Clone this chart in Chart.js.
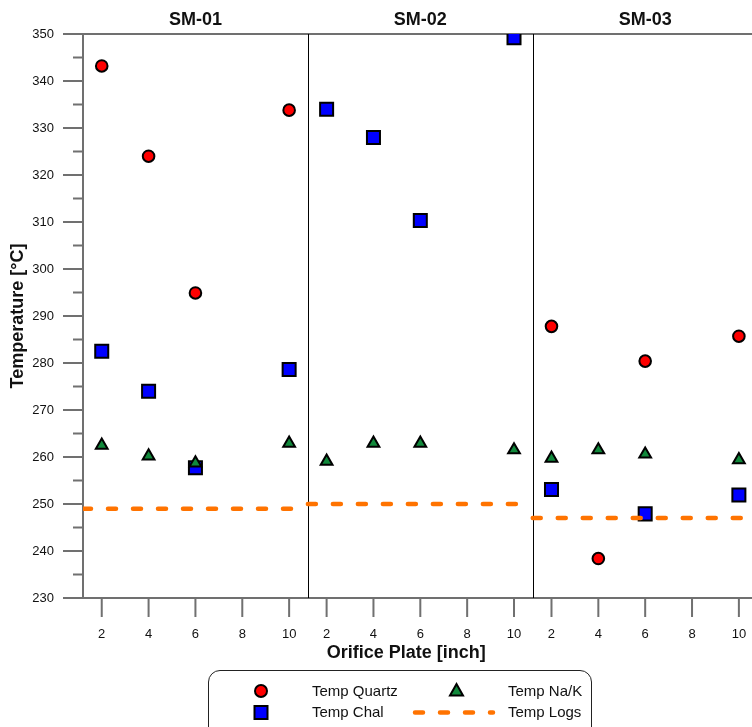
<!DOCTYPE html>
<html>
<head>
<meta charset="utf-8">
<script src="https://cdn.jsdelivr.net/npm/chart.js@4.4.1/dist/chart.umd.min.js"></script>
<style>
  html, body { margin: 0; padding: 0; background: #fff; overflow: hidden; }
  #wrap { position: relative; width: 752px; height: 727px; font-family: 'Liberation Sans', Arial, sans-serif; }
  #legend { position: absolute; left: 208px; top: 670px; width: 384px; height: 80px; border: 1.5px solid #222; border-radius: 12px; box-sizing: border-box; }
  #legend svg { position: absolute; left: 0; top: 0; }
  .lg-text { position: absolute; font-size: 15px; line-height: 18px; color: #111; white-space: nowrap; }
</style>
</head>
<body>
<div id="wrap">
  <canvas id="tempChart" width="752" height="727"></canvas>
  <div id="legend">
    <svg width="384" height="80">
      <circle cx="52" cy="20" r="6" fill="#ff0000" stroke="#000" stroke-width="2"/>
      <rect x="45.5" y="35" width="13" height="13" fill="#0000ff" stroke="#000" stroke-width="2"/>
      <polygon points="247.5,13 254,24.5 241,24.5" fill="#11893b" stroke="#000" stroke-width="2" stroke-linejoin="miter"/>
      <line x1="206" y1="41.5" x2="284" y2="41.5" stroke="#ff7300" stroke-width="4.5" stroke-dasharray="8 17" stroke-linecap="round"/>
    </svg>
    <span class="lg-text" style="left:103px; top:11px">Temp Quartz</span>
    <span class="lg-text" style="left:299px; top:11px">Temp Na/K</span>
    <span class="lg-text" style="left:103px; top:32px">Temp Chal</span>
    <span class="lg-text" style="left:299px; top:32px">Temp Logs</span>
  </div>
</div>
<script>
// three wells side by side, each with its own 2..10 inch orifice axis
const panels = ['SM-01', 'SM-02', 'SM-03'];
const orifice = [2, 4, 6, 10];
const tickLabels = [2, 4, 6, 8, 10];

// one row per well, one value per orifice plate (null = no sample)
const tempQuartz = [
  [343.2, 324.0, 294.9, 333.8],
  [null, null, null, null],
  [287.8, 238.4, 280.4, 285.7]
];
const tempChal = [
  [282.5, 274.0, 257.7, 278.6],
  [334.0, 328.0, 310.3, 349.2],
  [253.1, null, 247.9, 251.9]
];
const tempNaK = [
  [262.5, 260.2, 258.7, 262.9],
  [259.1, 262.9, 262.9, 261.5],
  [259.7, 261.5, 260.6, 259.4]
];
const tempLogs = [249, 250, 247];

// each panel covers 1.2 .. 10.8 of its own orifice axis
const panelMin = 1.2;
const panelSpan = 9.6;
const xMax = 2 * panelSpan + 10.56;

const axisGrey = '#707070';
const font = "'Liberation Sans', Arial, sans-serif";

const toPoints = rows => rows.flatMap((row, p) =>
  row.map((v, i) => ({ x: p * panelSpan + orifice[i], y: v })).filter(pt => pt.y !== null));

const logPoints = tempLogs.flatMap((v, p) => [
  { x: p * panelSpan + panelMin, y: v },
  { x: p * panelSpan + panelMin + panelSpan, y: v },
  { x: p * panelSpan + panelMin + panelSpan, y: null }
]);

const xTicks = panels.flatMap((name, p) => tickLabels.map(v => p * panelSpan + v));

// invisible tick marks only push the labels away from the axis
const spacer = len => ({
  display: true,
  drawOnChartArea: false,
  drawTicks: true,
  tickLength: len,
  tickColor: 'rgba(0,0,0,0)'
});

const frame = {
  id: 'frame',
  beforeDatasetsDraw(chart) {
    const { ctx, chartArea: a, scales: { x, y } } = chart;
    ctx.save();
    ctx.strokeStyle = axisGrey;
    ctx.lineWidth = 2;
    ctx.beginPath();
    ctx.moveTo(a.left, a.top);
    ctx.lineTo(a.left, a.bottom);
    ctx.moveTo(a.left, a.top);
    ctx.lineTo(a.right, a.top);
    ctx.moveTo(a.left, a.bottom);
    ctx.lineTo(a.right, a.bottom);
    y.ticks.forEach(t => {
      const py = y.getPixelForValue(t.value);
      ctx.moveTo(a.left - (t.value % 10 ? 10 : 20), py);
      ctx.lineTo(a.left, py);
    });
    x.ticks.forEach(t => {
      const px = x.getPixelForValue(t.value);
      ctx.moveTo(px, a.bottom);
      ctx.lineTo(px, a.bottom + 19);
    });
    ctx.stroke();

    // panel separators
    ctx.strokeStyle = '#000';
    ctx.lineWidth = 1;
    ctx.beginPath();
    for (let p = 1; p < panels.length; p++) {
      const px = Math.round(x.getPixelForValue(panelMin + p * panelSpan)) + 0.5;
      ctx.moveTo(px, a.top);
      ctx.lineTo(px, a.bottom);
    }
    ctx.stroke();

    // well names above each panel, axis name under the middle panel
    ctx.fillStyle = '#111';
    ctx.font = 'bold 18px ' + font;
    ctx.textAlign = 'center';
    ctx.textBaseline = 'middle';
    panels.forEach((name, p) => {
      const left = x.getPixelForValue(panelMin + p * panelSpan);
      const right = x.getPixelForValue(panelMin + (p + 1) * panelSpan);
      ctx.fillText(name, (left + right) / 2, 20);
    });
    ctx.fillText('Orifice Plate [inch]', x.getPixelForValue(panelSpan + 5.4), a.bottom + 55);
    ctx.restore();
  }
};

new Chart(document.getElementById('tempChart'), {
  type: 'scatter',
  data: {
    datasets: [
      {
        type: 'line',
        label: 'Temp Logs',
        data: logPoints,
        borderColor: '#ff7300',
        borderWidth: 4.5,
        borderDash: [8, 17],
        borderCapStyle: 'round',
        pointRadius: 0,
        spanGaps: false,
        fill: false
      },
      {
        label: 'Temp Na/K',
        data: toPoints(tempNaK),
        pointStyle: 'triangle',
        pointRadius: 6.8,
        pointBackgroundColor: '#11893b',
        pointBorderColor: '#000',
        pointBorderWidth: 2
      },
      {
        label: 'Temp Chal',
        data: toPoints(tempChal),
        pointStyle: 'rect',
        pointRadius: 9.2,
        pointBackgroundColor: '#0000ff',
        pointBorderColor: '#000',
        pointBorderWidth: 2
      },
      {
        label: 'Temp Quartz',
        data: toPoints(tempQuartz),
        pointStyle: 'circle',
        pointRadius: 5.8,
        pointBackgroundColor: '#ff0000',
        pointBorderColor: '#000',
        pointBorderWidth: 2
      }
    ]
  },
  options: {
    responsive: false,
    animation: false,
    events: [],
    layout: { autoPadding: false, padding: { top: 34, left: 0, right: 0, bottom: 0 } },
    plugins: { legend: { display: false }, tooltip: { enabled: false } },
    scales: {
      x: {
        type: 'linear',
        min: panelMin,
        max: xMax,
        afterBuildTicks: s => { s.ticks = xTicks.map(v => ({ value: v })); },
        afterFit: s => { s.height = 129; },
        grid: spacer(29),
        border: { display: false },
        ticks: {
          autoSkip: false,
          maxRotation: 0,
          padding: 0,
          color: '#111',
          font: { family: font, size: 13 },
          callback: (v, i) => tickLabels[i % tickLabels.length]
        }
      },
      y: {
        min: 230,
        max: 350,
        afterFit: s => { s.width = 83; },
        grid: spacer(29),
        border: { display: false },
        ticks: {
          stepSize: 5,
          padding: 0,
          color: '#111',
          font: { family: font, size: 13 },
          callback: v => (v % 10 === 0 ? v : '')
        },
        title: {
          display: true,
          text: 'Temperature [°C]',
          color: '#111',
          font: { family: font, size: 18, weight: 'bold' },
          padding: { top: 7, bottom: 7 }
        }
      }
    }
  },
  plugins: [frame]
});
</script>
</body>
</html>
